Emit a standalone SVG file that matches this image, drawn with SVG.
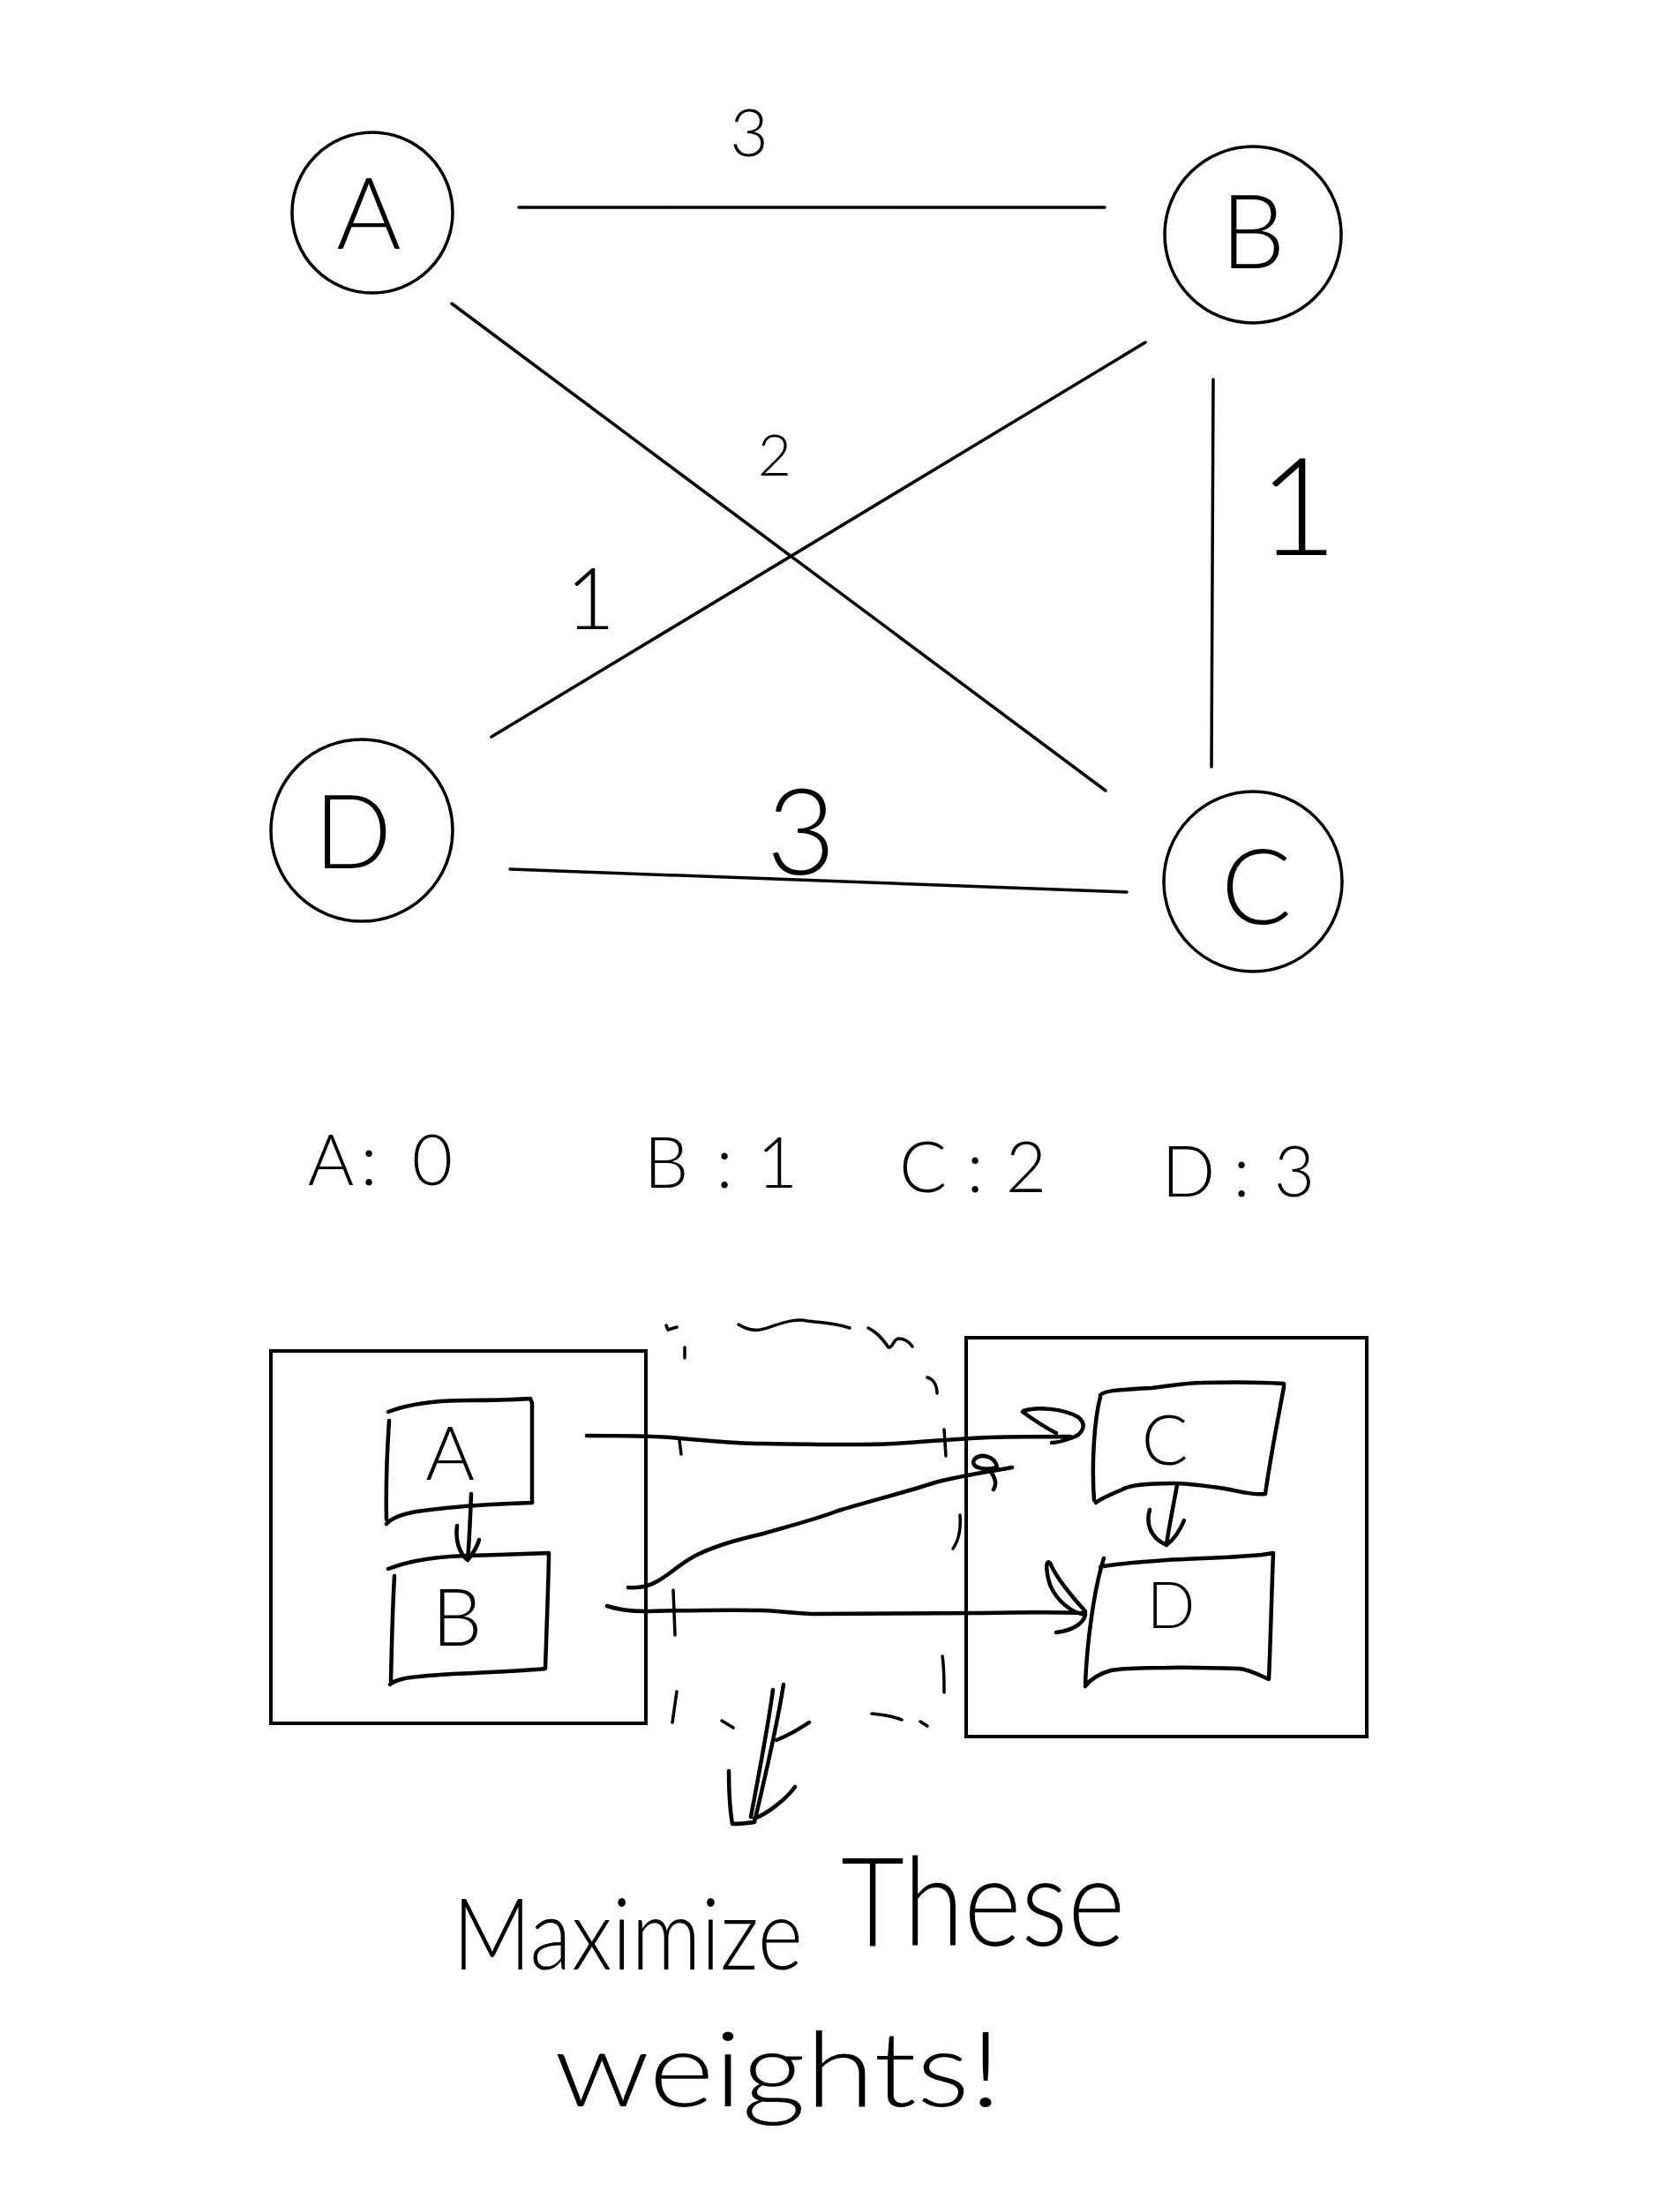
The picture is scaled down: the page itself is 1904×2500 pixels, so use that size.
<svg xmlns="http://www.w3.org/2000/svg" width="1904" height="2500" viewBox="0 0 1904 2500">
<style>
.ln{fill:none;stroke:#000;stroke-width:3.5;stroke-linecap:round;stroke-linejoin:round}
.hw{fill:none;stroke:#000;stroke-width:4.5;stroke-linecap:round;stroke-linejoin:round}
.box{fill:none;stroke:#000;stroke-width:4}
.t{font-family:Lato,Roboto,"Open Sans","Liberation Sans",sans-serif;font-weight:300;fill:#000;text-anchor:middle}
.tl{font-family:Lato,Roboto,"Open Sans","Liberation Sans",sans-serif;font-weight:300;fill:#000}
</style>
<rect width="1904" height="2500" fill="#fff"/>

<g id="connectors">
  <line class="ln" x1="588" y1="235" x2="1252" y2="235"/>
  <line class="ln" x1="512" y1="344" x2="1253" y2="896"/>
  <line class="ln" x1="1298" y1="388" x2="557" y2="835"/>
  <line class="ln" x1="1375" y1="430" x2="1373" y2="869"/>
  <line class="ln" x1="578" y1="985" x2="1277" y2="1011"/>
</g>

<g id="edge-labels">
  <text class="t" x="849" y="177" font-size="75">3</text>
  <text class="t" x="878" y="539" font-size="66">2</text>
  <text class="t" x="669" y="713" font-size="96">1</text>
  <text class="t" x="1471" y="629" font-size="155">1</text>
  <text class="t" x="908" y="991" font-size="136">3</text>
</g>

<g id="node-A">
  <ellipse class="ln" cx="422" cy="241" rx="91" ry="91"/>
  <text class="t" x="418" y="282" font-size="112">A</text>
</g>
<g id="node-B">
  <ellipse class="ln" cx="1420" cy="266" rx="100" ry="100"/>
  <text class="t" x="1420" y="304" font-size="116">B</text>
</g>
<g id="node-D">
  <ellipse class="ln" cx="410" cy="941" rx="103" ry="103"/>
  <text class="t" x="400" y="984" font-size="116">D</text>
</g>
<g id="node-C">
  <ellipse class="ln" cx="1420" cy="999" rx="101" ry="102"/>
  <text class="t" x="1424" y="1047" font-size="118">C</text>
</g>

<g id="order">
  <text class="t" font-size="80" x="375 418 490" y="1343">A:0</text>
  <text class="t" font-size="80" x="755 821 881" y="1346">B:1</text>
  <text class="t" font-size="80" x="1046 1105 1163" y="1351">C:2</text>
  <text class="t" font-size="80" x="1347 1407 1467" y="1356">D:3</text>
</g>

<g id="partition-left">
  <rect class="box" x="307" y="1531" width="425" height="422"/>
</g>
<g id="partition-right">
  <rect class="box" x="1095" y="1516" width="454" height="452"/>
</g>

<g id="box-A">
  <path class="hw" d="M440,1600 C465,1590 495,1587 530,1587 C560,1587 585,1586 601,1585 L603,1590 L603,1703 C570,1704 520,1706 472,1713 C455,1716 444,1720 438,1727 M438,1722 C437,1680 439,1640 441,1610"/>
  <text class="t" x="510" y="1677" font-size="85">A</text>
</g>
<g id="box-B">
  <path class="hw" d="M440,1778 C460,1770 490,1764 530,1763 C560,1762 600,1761 622,1760 L622,1765 C621,1810 619,1860 618,1891 C600,1893 560,1895 513,1897 C485,1899 465,1900 455,1903 C448,1905 444,1907 442,1909 M443,1905 C444,1860 445,1820 447,1786"/>
  <text class="t" x="518" y="1865" font-size="90">B</text>
</g>
<g id="box-C">
  <path class="hw" d="M1247,1581 C1252,1576 1265,1575 1305,1573 C1330,1570 1345,1567 1363,1567 C1400,1566 1440,1567 1455,1568 L1455,1572 C1448,1610 1440,1650 1434,1693 C1420,1695 1405,1690 1388,1687 C1360,1683 1345,1681 1330,1681 C1300,1681 1280,1683 1272,1688 C1255,1695 1245,1700 1242,1703 M1247,1583 C1240,1610 1237,1660 1240,1700"/>
  <text class="t" x="1320" y="1660" font-size="78">C</text>
</g>
<g id="box-D">
  <path class="hw" d="M1247,1776 C1255,1773 1280,1771 1322,1768 C1360,1766 1400,1765 1430,1762 L1443,1760 C1441,1810 1440,1860 1438,1903 C1425,1897 1415,1892 1405,1891 C1370,1890 1340,1889 1322,1890 C1290,1890 1270,1891 1259,1893 C1245,1897 1235,1904 1230,1911 M1230,1908 C1232,1860 1240,1800 1251,1766"/>
  <text class="t" x="1327" y="1845" font-size="72">D</text>
</g>

<g id="mapping-connectors">
  <path class="hw" d="M534,1693 C533,1720 532,1745 530,1768 M518,1729 C516,1745 520,1760 530,1768 M543,1745 C540,1755 535,1762 530,1768"/>
  <path class="hw" d="M1334,1683 C1330,1705 1325,1730 1322,1750 M1303,1711 C1299,1725 1302,1742 1322,1751 M1342,1723 C1337,1735 1330,1745 1322,1751"/>
  <path class="hw" d="M665,1627 C700,1627 730,1627 760,1629 C800,1632 830,1636 863,1636 C920,1637 980,1638 1013,1636 C1050,1634 1090,1630 1120,1629 C1160,1628 1190,1628 1213,1628 M1159,1600 C1170,1608 1185,1618 1197,1624 M1160,1599 C1175,1594 1205,1596 1222,1606 C1232,1614 1228,1626 1213,1630 C1205,1633 1198,1635 1192,1635"/>
  <path class="hw" d="M712,1799 C725,1800 735,1798 745,1792 C760,1784 770,1772 790,1762 C815,1750 840,1744 865,1738 C900,1728 930,1720 950,1712 C990,1700 1030,1690 1060,1680 C1090,1672 1120,1668 1147,1663 M1130,1663 C1128,1650 1112,1647 1105,1653 C1098,1661 1112,1668 1130,1663 M1123,1668 C1128,1675 1130,1682 1126,1688"/>
  <path class="hw" d="M688,1820 C700,1824 710,1826 730,1826 C780,1825 820,1824 863,1825 C890,1826 905,1829 925,1829 C980,1829 1060,1828 1113,1828 C1160,1827 1200,1827 1230,1828 M1230,1826 C1215,1810 1196,1786 1191,1773 C1186,1765 1184,1776 1190,1796 C1198,1815 1215,1828 1230,1830 C1228,1840 1215,1848 1197,1850"/>
</g>

<g id="dashed-outline">
  <path class="ln" d="M755,1502 L757,1507 L767,1504"/>
  <path class="ln" d="M776,1527 L776,1539"/>
  <path class="ln" d="M837,1501 C850,1509 860,1509 875,1503 C895,1496 905,1495 915,1497 C930,1499 945,1499 963,1505"/>
  <path class="ln" d="M984,1505 C995,1510 1002,1520 1007,1527 C1012,1528 1012,1518 1018,1517 C1025,1517 1030,1520 1034,1526"/>
  <path class="ln" d="M1051,1561 C1058,1563 1062,1570 1062,1579"/>
  <path class="ln" d="M770,1632 L772,1648"/>
  <path class="ln" d="M1070,1620 L1072,1650"/>
  <path class="ln" d="M1088,1717 C1089,1730 1087,1745 1080,1755"/>
  <path class="ln" d="M763,1802 L765,1853"/>
  <path class="ln" d="M1068,1877 C1070,1890 1070,1905 1070,1918"/>
  <path class="ln" d="M767,1917 L762,1952"/>
  <path class="ln" d="M818,1950 L831,1958"/>
  <path class="ln" d="M988,1942 C1000,1943 1012,1945 1022,1949"/>
  <path class="ln" d="M1043,1951 L1051,1956"/>
</g>

<g id="big-arrow">
  <path class="hw" d="M888,1909 C880,1960 868,2010 855,2065 M876,1915 C870,1960 860,2010 851,2059 M880,1972 C890,1968 905,1960 917,1952 M826,2007 C826,2030 828,2055 830,2067 C838,2067 848,2066 855,2065 M901,2025 C890,2040 870,2055 855,2061"/>
</g>

<g id="note">
  <text class="tl" x="513" y="2232" font-size="112" textLength="397" lengthAdjust="spacingAndGlyphs">Maximize</text>
  <text class="tl" x="953" y="2205" font-size="140" textLength="322" lengthAdjust="spacingAndGlyphs">These</text>
  <text class="tl" x="628" y="2387" font-size="118" textLength="507" lengthAdjust="spacingAndGlyphs">weights!</text>
</g>
</svg>
